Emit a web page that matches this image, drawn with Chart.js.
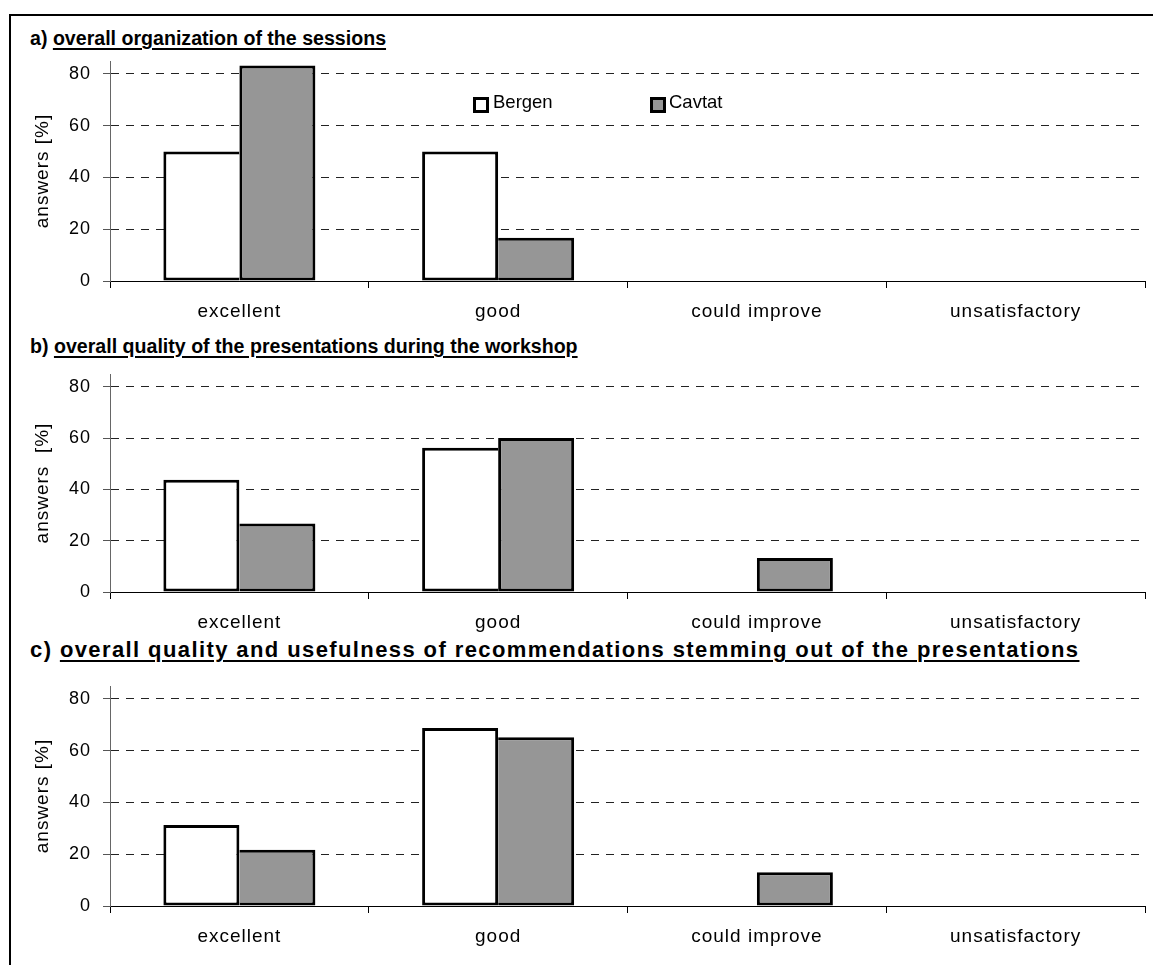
<!DOCTYPE html>
<html><head><meta charset="utf-8">
<script src="https://cdn.jsdelivr.net/npm/chart.js@4/dist/chart.umd.min.js"></script>
<style>
html,body{margin:0;padding:0;background:#fff;width:1153px;height:965px;overflow:hidden;position:relative;font-family:'Liberation Sans',Arial,sans-serif;color:#000}
.frame{position:absolute;left:9px;top:14px;width:1150px;height:960px;border-top:2px solid #000;border-left:2px solid #000}
.title{position:absolute;left:30px;font-weight:bold;font-size:19.6px;line-height:22px;white-space:nowrap}
.title span{text-decoration:underline;text-decoration-thickness:2px;text-underline-offset:3px}
#tC{font-size:22px;line-height:24px;letter-spacing:1.4px}
canvas{position:absolute;left:0}
.lg-box{position:absolute;width:16px;height:16px;box-sizing:border-box;border:3px solid #000}
.lg-txt{position:absolute;font-size:18.5px;line-height:20px;white-space:nowrap}
</style></head>
<body>
<div class="frame"></div>
<div class="title" id="tA" style="top:27px"></div>
<div class="title" id="tB" style="top:335px"></div>
<div class="title" id="tC" style="top:638px"></div>
<canvas id="cA" width="1153" height="271" style="top:55px"></canvas>
<canvas id="cB" width="1153" height="269" style="top:368px"></canvas>
<canvas id="cC" width="1153" height="271" style="top:680px"></canvas>
<div id="legend"></div>
<script>
// ---- data ----
const categories = ['excellent', 'good', 'could improve', 'unsatisfactory'];
const seriesNames = ['Bergen', 'Cavtat'];
const seriesColors = ['#ffffff', '#969696'];
const bergenA = [50, 50, 0, 0];
const cavtatA = [83.3, 16.7, 0, 0];
const bergenB = [43.75, 56.25, 0, 0];
const cavtatB = [26.7, 60, 13.3, 0];
const bergenC = [31.25, 68.75, 0, 0];
const cavtatC = [21.7, 65.2, 13, 0];
const yTickValues = [0, 20, 40, 60, 80];
const yMax = 85;
const panelPrefixes = ['a)', 'b)', 'c)'];
const panelTitles = [
  'overall organization of the sessions',
  'overall quality of the presentations during the workshop',
  'overall quality and usefulness of recommendations stemming out of the presentations'
];
const yTitles = ['answers [%]', 'answers  [%]', 'answers [%]'];

// ---- titles ----
['tA', 'tB', 'tC'].forEach((id, i) => {
  const el = document.getElementById(id);
  el.appendChild(document.createTextNode(panelPrefixes[i] + ' '));
  const s = document.createElement('span');
  s.textContent = panelTitles[i];
  el.appendChild(s);
});

// ---- legend (panel a) ----
const lg = document.getElementById('legend');
const lgPos = [{box: 473, txt: 493}, {box: 650, txt: 669}];
seriesNames.forEach((n, i) => {
  const b = document.createElement('div');
  b.className = 'lg-box';
  b.style.left = lgPos[i].box + 'px';
  b.style.top = '97px';
  b.style.background = seriesColors[i];
  lg.appendChild(b);
  const t = document.createElement('div');
  t.className = 'lg-txt';
  t.style.left = lgPos[i].txt + 'px';
  t.style.top = '92px';
  t.textContent = n;
  lg.appendChild(t);
});

// ---- charts ----
const FONT = "'Liberation Sans', Arial, sans-serif";
const spacing = {
  id: 'spacing',
  beforeLayout(c) { c.ctx.letterSpacing = '1px'; },
  beforeDraw(c) { c.ctx.letterSpacing = '1px'; }
};

function bw(isFirst) {
  return (ctx) => {
    const ds = ctx.chart.data.datasets;
    const me = ds[ctx.datasetIndex].data[ctx.dataIndex];
    const other = ds[1 - ctx.datasetIndex].data[ctx.dataIndex];
    const inner = me >= other ? 3 : 0;
    return isFirst ? {top: 3, left: 3, bottom: 3, right: inner}
                   : {top: 3, right: 3, bottom: 3, left: inner};
  };
}

function makeChart(id, bergen, cavtat, yTitle) {
  return new Chart(document.getElementById(id), {
    type: 'bar',
    data: {
      labels: categories,
      datasets: [
        {label: seriesNames[0], data: bergen, backgroundColor: seriesColors[0], borderColor: '#000',
         borderWidth: bw(true), borderSkipped: false, categoryPercentage: 0.5875, barPercentage: 1},
        {label: seriesNames[1], data: cavtat, backgroundColor: seriesColors[1], borderColor: '#000',
         borderWidth: bw(false), borderSkipped: false, categoryPercentage: 0.5875, barPercentage: 1}
      ]
    },
    options: {
      responsive: false,
      animation: false,
      devicePixelRatio: 1,
      layout: {padding: {top: 6, right: 8, left: 0, bottom: 0}},
      plugins: {legend: {display: false}, tooltip: {enabled: false}},
      scales: {
        x: {
          grid: {display: true, drawOnChartArea: false, drawTicks: true, tickLength: 7, color: '#000', offset: true},
          border: {display: true, color: '#000', width: 1},
          ticks: {color: '#000', font: {family: FONT, size: 19}, padding: 12, maxRotation: 0, autoSkip: false},
          afterFit: s => { s.height = 45; }
        },
        y: {
          min: 0, max: yMax,
          afterBuildTicks: s => { s.ticks = yTickValues.map(v => ({value: v})); },
          afterFit: s => { s.width = 110; s.paddingTop = 0; s.paddingBottom = 0; },
          grid: {color: '#222', lineWidth: 1, drawTicks: true, tickLength: 7, tickColor: '#555', tickBorderDash: []},
          border: {display: true, color: '#666', width: 1, dash: [8, 7]},
          ticks: {color: '#000', font: {family: FONT, size: 18}, padding: 12},
          title: {display: true, text: yTitle, color: '#000', font: {family: FONT, size: 19}, padding: {top: 31, bottom: 0}}
        }
      }
    },
    plugins: [spacing]
  });
}

makeChart('cA', bergenA, cavtatA, yTitles[0]);
makeChart('cB', bergenB, cavtatB, yTitles[1]);
makeChart('cC', bergenC, cavtatC, yTitles[2]);
</script>
</body></html>
